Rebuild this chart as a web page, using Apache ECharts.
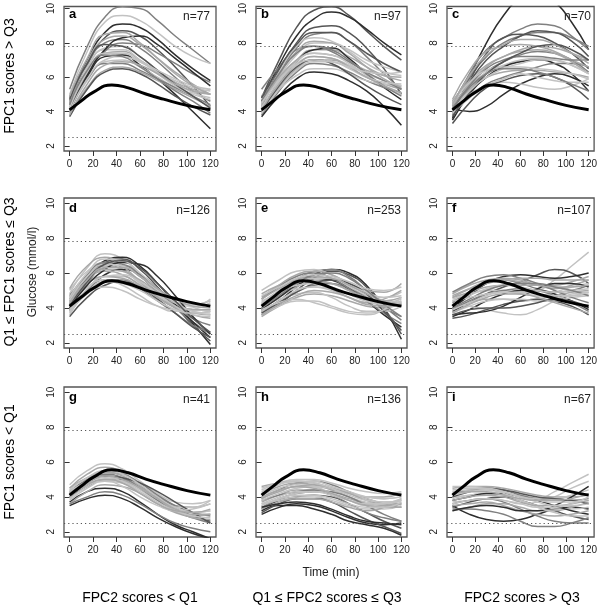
<!DOCTYPE html>
<html>
<head>
<meta charset="utf-8">
<script src="https://cdn.jsdelivr.net/npm/echarts@6/dist/echarts.min.js"></script>
<style>
  html, body { margin: 0; padding: 0; background: #fff; }
  #chart { width: 600px; height: 605px; }
</style>
</head>
<body>
<div id="chart"></div>
<script>
const times = [0, 15, 30, 45, 60, 75, 90, 105, 120];
// the mean curve was read at its own points (peak near 36 min)
const meanTimes = [0, 10, 20, 36, 50, 65, 80, 100, 120];
const meanCurve = [4.1, 4.62, 5.12, 5.55, 5.38, 5.02, 4.72, 4.36, 4.1];
const refLines = [2.5, 7.8];
const xTicks = [0, 20, 40, 60, 80, 100, 120];
const yTicks = [2, 4, 6, 8, 10];

const panelLetters = ['a', 'b', 'c', 'd', 'e', 'f', 'g', 'h', 'i'];
const panelCounts = [77, 97, 70, 126, 253, 107, 41, 136, 67];
const rowLabels = ['FPC1 scores > Q3', 'Q1 \u2264 FPC1 scores \u2264 Q3', 'FPC1 scores < Q1'];
const colLabels = ['FPC2 scores < Q1', 'Q1 \u2264 FPC2 scores \u2264 Q3', 'FPC2 scores > Q3'];
const yTitle = 'Glucose (mmol/l)';
const xTitle = 'Time (min)';

// panel a
const curvesA = [
  [5.3, 7.8, 9.5, 10.1, 10.0, 9.3, 8.4, 7.6, 6.8],
  [5.0, 7.5, 9.2, 9.6, 9.3, 8.6, 7.8, 7.2, 6.8],
  [4.8, 7.0, 8.6, 9.1, 8.9, 8.2, 7.3, 6.5, 5.8],
  [4.6, 6.8, 8.3, 8.7, 8.4, 7.6, 6.6, 5.5, 4.3],
  [4.5, 6.7, 8.0, 8.2, 7.7, 6.9, 6.0, 5.2, 4.6],
  [4.3, 6.5, 7.7, 7.8, 7.2, 6.4, 5.7, 5.1, 4.8],
  [4.6, 6.3, 7.4, 7.5, 7.0, 6.3, 5.7, 5.3, 5.0],
  [4.1, 6.0, 7.2, 7.3, 6.7, 5.9, 5.0, 4.0, 3.0],
  [4.0, 5.8, 6.9, 7.0, 6.6, 6.0, 5.4, 5.0, 4.7],
  [4.4, 5.9, 6.8, 6.8, 6.4, 5.9, 5.4, 4.9, 4.4],
  [3.9, 5.4, 6.4, 6.6, 6.3, 5.8, 5.3, 4.8, 4.3],
  [3.7, 5.3, 6.3, 6.5, 6.2, 5.6, 4.9, 4.3, 3.8],
  [4.8, 6.6, 7.6, 7.6, 7.0, 6.2, 5.5, 5.1, 5.3],
  [4.2, 6.2, 7.5, 8.0, 7.9, 7.4, 6.8, 6.2, 5.7],
  [4.0, 6.1, 7.6, 8.3, 8.4, 7.9, 7.1, 6.3, 5.5],
  [4.5, 6.9, 8.2, 8.4, 7.9, 7.1, 6.3, 5.6, 5.0],
  [4.2, 6.3, 7.4, 7.4, 6.9, 6.3, 5.8, 5.4, 5.2],
  [4.7, 6.8, 7.9, 7.8, 7.2, 6.4, 5.6, 4.9, 4.2],
  [4.0, 5.9, 7.0, 7.2, 6.9, 6.4, 5.9, 5.5, 5.3],
  [4.4, 6.4, 7.3, 7.2, 6.6, 5.9, 5.2, 4.6, 3.9],
  [4.9, 7.1, 8.5, 8.6, 8.0, 7.1, 6.2, 5.5, 5.0],
  [3.8, 5.6, 6.7, 6.9, 6.7, 6.2, 5.6, 5.2, 5.0]
];
const tonesA = [2, 4, 0, 1, 2, 4, 3, 0, 4, 2, 3, 1, 4, 2, 0, 3, 4, 1, 4, 2, 3, 3];

// panel b
const curvesB = [
  [4.8, 7.0, 8.9, 9.9, 10.1, 9.6, 8.7, 7.8, 7.0],
  [4.6, 6.7, 8.4, 9.4, 9.8, 9.5, 8.8, 8.0, 7.3],
  [4.5, 6.4, 8.0, 8.9, 9.0, 8.6, 7.7, 6.5, 5.0],
  [4.3, 6.2, 7.7, 8.5, 8.6, 8.1, 7.2, 6.2, 5.3],
  [4.4, 6.0, 7.3, 8.0, 8.0, 7.6, 7.0, 6.6, 6.3],
  [4.1, 5.8, 7.0, 7.6, 7.6, 7.2, 6.6, 6.1, 5.8],
  [4.2, 5.6, 6.9, 7.6, 7.7, 7.1, 6.2, 5.4, 4.7],
  [4.7, 5.9, 6.8, 7.2, 7.1, 6.7, 6.2, 5.8, 5.5],
  [4.0, 5.4, 6.5, 7.0, 7.0, 6.6, 6.0, 5.6, 5.3],
  [3.8, 5.2, 6.3, 6.8, 6.7, 6.3, 5.8, 5.4, 5.1],
  [4.3, 5.3, 6.1, 6.5, 6.5, 6.2, 5.8, 5.6, 5.5],
  [3.7, 4.9, 5.9, 6.3, 6.2, 5.8, 5.2, 4.3, 3.2],
  [4.9, 6.0, 7.0, 7.4, 7.3, 6.9, 6.4, 6.1, 6.0],
  [5.3, 6.6, 7.6, 7.8, 7.5, 6.9, 6.3, 5.8, 5.3],
  [4.5, 6.3, 7.8, 8.3, 8.1, 7.5, 6.8, 6.3, 6.1],
  [4.0, 5.5, 6.6, 7.0, 6.8, 6.2, 5.5, 4.9, 4.4],
  [4.4, 6.1, 7.5, 8.1, 8.0, 7.4, 6.6, 5.9, 5.4],
  [4.2, 5.7, 6.9, 7.4, 7.3, 6.8, 6.1, 5.5, 5.0],
  [4.6, 6.2, 7.4, 7.8, 7.6, 7.0, 6.2, 5.5, 4.9],
  [3.9, 5.3, 6.4, 6.9, 6.9, 6.5, 6.0, 5.7, 5.6],
  [4.8, 6.5, 7.9, 8.6, 8.6, 8.1, 7.4, 6.8, 6.3],
  [4.1, 5.6, 6.7, 7.2, 7.1, 6.6, 6.0, 5.5, 5.1],
  [4.5, 5.8, 6.7, 7.0, 6.9, 6.6, 6.3, 6.2, 6.3]
];
const tonesB = [1, 0, 1, 2, 4, 3, 0, 4, 3, 2, 4, 0, 3, 2, 4, 1, 3, 4, 2, 4, 1, 3, 4];

// panel c
const curvesC = [
  [3.6, 6.0, 8.0, 9.6, 10.6, 10.9, 10.4, 9.2, 7.6],
  [4.2, 4.0, 4.3, 5.0, 5.6, 6.0, 6.2, 6.0, 5.5],
  [4.5, 6.0, 7.2, 8.0, 8.4, 8.6, 8.6, 8.3, 7.8],
  [4.3, 6.2, 7.6, 8.3, 8.8, 9.1, 9.0, 8.4, 7.6],
  [4.0, 5.8, 7.4, 8.3, 8.5, 8.4, 8.0, 7.4, 6.5],
  [4.6, 5.8, 6.7, 7.2, 7.6, 7.8, 7.7, 7.4, 7.0],
  [3.8, 5.2, 6.3, 6.9, 7.3, 7.5, 7.4, 7.0, 6.3],
  [4.4, 5.5, 6.3, 6.7, 7.0, 7.1, 7.0, 6.7, 6.2],
  [3.5, 5.0, 6.0, 6.6, 6.9, 7.0, 6.8, 6.2, 5.2],
  [4.1, 5.3, 6.0, 6.3, 6.4, 6.4, 6.3, 6.2, 6.0],
  [3.9, 4.9, 5.6, 6.0, 6.3, 6.6, 6.8, 6.8, 6.6],
  [4.2, 5.0, 5.5, 5.7, 5.6, 5.4, 5.3, 5.5, 5.9],
  [3.3, 4.5, 5.4, 5.8, 6.1, 6.2, 6.0, 5.5, 4.7],
  [4.7, 6.4, 7.5, 7.8, 7.9, 7.8, 7.5, 7.0, 6.6],
  [4.0, 5.7, 7.0, 7.8, 8.4, 8.7, 8.6, 8.1, 7.2],
  [3.9, 4.8, 5.5, 5.9, 6.2, 6.0, 5.8, 5.7, 5.7],
  [4.3, 5.6, 6.6, 7.2, 7.5, 7.6, 7.4, 6.9, 6.2],
  [4.1, 5.5, 6.5, 7.0, 7.2, 7.2, 7.1, 7.0, 7.0],
  [4.5, 5.7, 6.4, 6.6, 6.6, 6.5, 6.4, 6.2, 5.9],
  [3.7, 5.1, 6.2, 6.9, 7.4, 7.8, 7.9, 7.6, 7.0],
  [4.4, 6.1, 7.3, 7.9, 8.2, 8.2, 7.9, 7.4, 6.8],
  [4.0, 5.2, 6.0, 6.5, 6.8, 7.0, 7.0, 6.7, 6.2],
  [4.2, 5.4, 6.2, 6.5, 6.5, 6.3, 6.0, 5.6, 5.2]
];
const tonesC = [0, 0, 2, 2, 1, 3, 2, 4, 0, 3, 2, 4, 1, 3, 1, 4, 3, 2, 4, 1, 3, 4, 2];

// panel d
const curvesD = [
  [4.8, 6.3, 7.1, 6.8, 5.9, 4.9, 4.3, 4.1, 4.2],
  [4.2, 5.6, 6.7, 6.9, 6.4, 5.4, 4.3, 3.1, 1.9],
  [4.4, 5.7, 6.6, 6.8, 6.2, 5.2, 4.1, 3.0, 2.1],
  [4.0, 5.4, 6.3, 6.4, 5.8, 4.9, 4.0, 3.2, 2.5],
  [5.0, 6.1, 6.6, 6.2, 5.4, 4.7, 4.3, 4.2, 4.4],
  [4.5, 5.8, 6.4, 6.2, 5.5, 4.8, 4.2, 3.9, 3.9],
  [3.9, 5.0, 5.9, 6.2, 5.9, 5.1, 4.2, 3.2, 2.3],
  [3.6, 5.0, 5.8, 5.8, 5.3, 4.7, 4.3, 4.2, 4.4],
  [4.3, 5.6, 6.1, 5.9, 5.3, 4.6, 4.0, 3.6, 3.4],
  [3.8, 5.0, 5.6, 5.6, 5.1, 4.4, 3.7, 3.0, 2.6],
  [4.1, 5.2, 5.6, 5.3, 4.7, 4.1, 3.8, 3.9, 4.3],
  [3.5, 4.6, 5.3, 5.5, 5.2, 4.5, 3.7, 2.9, 2.3],
  [4.6, 5.4, 5.8, 5.7, 5.2, 4.6, 4.1, 3.7, 3.6],
  [3.7, 4.8, 5.2, 5.0, 4.5, 4.1, 3.9, 4.0, 4.5],
  [4.7, 5.9, 6.6, 6.5, 5.9, 5.0, 4.1, 3.4, 3.0],
  [5.1, 6.4, 6.9, 6.4, 5.5, 4.6, 4.0, 3.7, 3.8],
  [4.0, 5.3, 6.2, 6.6, 6.5, 5.8, 4.7, 3.5, 2.5],
  [4.4, 5.8, 6.5, 6.4, 5.8, 5.0, 4.3, 3.8, 3.7],
  [4.2, 5.5, 6.2, 6.1, 5.6, 4.9, 4.3, 3.9, 3.9],
  [4.6, 6.0, 6.8, 6.7, 6.0, 5.1, 4.3, 3.8, 3.6],
  [3.9, 5.1, 5.8, 5.9, 5.5, 4.8, 4.1, 3.6, 3.5],
  [4.1, 5.5, 6.5, 6.7, 6.3, 5.4, 4.4, 3.4, 2.6],
  [4.3, 5.6, 6.3, 6.3, 5.8, 5.1, 4.5, 4.1, 4.0],
  [3.8, 4.9, 5.5, 5.4, 5.0, 4.4, 3.9, 3.7, 3.8]
];
const tonesD = [4, 0, 1, 2, 4, 3, 0, 4, 3, 2, 4, 1, 3, 4, 2, 3, 0, 4, 3, 4, 4, 1, 3, 4];

// panel e
const curvesE = [
  [3.8, 4.4, 5.2, 5.9, 6.2, 6.0, 5.3, 4.0, 2.2],
  [3.6, 4.2, 5.0, 5.7, 6.1, 5.9, 5.2, 4.0, 2.5],
  [4.2, 4.9, 5.6, 6.1, 6.2, 5.8, 5.0, 4.1, 3.3],
  [5.0, 5.6, 6.1, 6.2, 5.9, 5.4, 4.8, 4.6, 4.9],
  [4.6, 5.3, 5.9, 6.1, 5.9, 5.4, 5.0, 4.9, 5.4],
  [4.3, 5.0, 5.6, 5.8, 5.6, 5.2, 4.7, 4.4, 4.3],
  [4.0, 4.6, 5.2, 5.5, 5.4, 5.0, 4.5, 4.2, 4.2],
  [3.7, 4.3, 4.9, 5.3, 5.4, 5.1, 4.6, 4.0, 3.5],
  [4.4, 4.8, 5.1, 5.2, 5.0, 4.6, 4.3, 4.2, 4.4],
  [3.5, 4.1, 4.6, 4.8, 4.7, 4.4, 4.1, 4.0, 4.3],
  [4.0, 4.5, 4.8, 4.9, 4.6, 4.1, 3.8, 3.8, 4.1],
  [3.9, 4.6, 5.3, 5.7, 5.6, 5.1, 4.4, 3.6, 2.9],
  [4.8, 5.3, 5.6, 5.5, 5.1, 4.6, 4.3, 4.5, 5.0],
  [3.6, 4.1, 4.4, 4.4, 4.1, 3.8, 3.7, 3.9, 4.4],
  [4.5, 5.2, 5.8, 6.0, 5.7, 5.1, 4.4, 3.7, 3.1],
  [4.1, 4.8, 5.4, 5.6, 5.4, 5.0, 4.6, 4.4, 4.6],
  [3.7, 4.3, 4.9, 5.4, 5.6, 5.4, 4.8, 3.8, 2.7],
  [3.9, 4.3, 4.5, 4.3, 4.0, 3.7, 3.6, 3.9, 4.6],
  [4.2, 4.8, 5.4, 5.7, 5.7, 5.3, 4.9, 4.6, 4.7],
  [4.5, 5.1, 5.6, 5.8, 5.7, 5.3, 4.8, 4.4, 4.2],
  [3.8, 4.4, 5.0, 5.2, 5.1, 4.8, 4.4, 4.2, 4.3],
  [4.0, 4.7, 5.4, 5.9, 6.0, 5.7, 5.0, 4.2, 3.5],
  [4.7, 5.2, 5.7, 5.9, 5.8, 5.5, 5.1, 5.0, 5.2],
  [3.6, 4.2, 4.7, 5.0, 4.9, 4.6, 4.2, 4.1, 4.2],
  [4.3, 4.9, 5.3, 5.4, 5.2, 4.8, 4.4, 4.3, 4.5]
];
const tonesE = [0, 1, 2, 4, 3, 4, 3, 2, 4, 3, 4, 0, 3, 4, 2, 3, 1, 4, 4, 3, 4, 2, 4, 3, 4];

// panel f
const curvesF = [
  [4.4, 4.8, 5.0, 5.0, 4.9, 5.0, 5.6, 6.4, 7.2],
  [3.8, 4.3, 4.8, 5.2, 5.5, 5.9, 6.2, 6.0, 5.4],
  [4.0, 4.7, 5.4, 5.8, 5.9, 5.8, 5.7, 5.8, 6.0],
  [4.8, 5.3, 5.6, 5.7, 5.6, 5.3, 5.1, 5.3, 5.6],
  [4.3, 4.9, 5.4, 5.6, 5.4, 5.1, 4.9, 5.0, 5.3],
  [4.5, 4.8, 5.0, 5.0, 4.8, 4.7, 4.9, 5.2, 5.4],
  [3.5, 3.9, 4.4, 4.8, 5.0, 5.0, 4.8, 4.4, 3.9],
  [4.0, 4.3, 4.5, 4.5, 4.4, 4.5, 4.7, 4.9, 5.0],
  [4.2, 4.1, 3.9, 3.7, 3.6, 3.9, 4.4, 4.8, 4.9],
  [3.4, 3.6, 3.9, 4.2, 4.4, 4.5, 4.4, 4.1, 3.6],
  [3.9, 4.4, 4.8, 5.0, 5.1, 5.0, 4.7, 4.3, 3.8],
  [4.6, 4.9, 5.2, 5.3, 5.3, 5.3, 5.3, 5.5, 5.8],
  [3.6, 3.7, 3.8, 4.1, 4.6, 5.1, 5.4, 5.4, 5.2],
  [3.7, 4.1, 4.4, 4.5, 4.5, 4.4, 4.4, 4.6, 4.7],
  [4.9, 5.4, 5.8, 5.9, 5.7, 5.4, 5.0, 4.6, 4.3],
  [3.6, 3.9, 4.0, 4.0, 4.1, 4.3, 4.5, 4.4, 4.0],
  [4.2, 4.7, 5.1, 5.3, 5.2, 5.0, 4.9, 5.0, 5.1],
  [4.6, 5.1, 5.5, 5.6, 5.5, 5.3, 5.2, 5.2, 5.3],
  [3.9, 4.3, 4.7, 4.9, 4.9, 4.8, 4.7, 4.7, 4.8],
  [4.0, 4.5, 5.0, 5.3, 5.4, 5.4, 5.2, 5.0, 4.7],
  [4.4, 4.6, 4.8, 4.9, 4.8, 4.7, 4.6, 4.7, 4.9],
  [3.7, 4.2, 4.6, 4.8, 4.8, 4.6, 4.3, 4.0, 3.7],
  [4.7, 5.1, 5.4, 5.6, 5.7, 5.7, 5.6, 5.6, 5.6]
];
const tonesF = [4, 1, 0, 3, 2, 4, 0, 3, 4, 1, 2, 3, 0, 4, 2, 1, 4, 3, 4, 2, 4, 3, 3];

// panel g
const curvesG = [
  [4.7, 5.5, 5.9, 5.6, 4.9, 4.2, 3.7, 3.6, 3.8],
  [4.5, 5.3, 5.7, 5.4, 4.7, 4.0, 3.5, 3.4, 3.6],
  [4.3, 5.0, 5.4, 5.3, 4.8, 4.1, 3.5, 3.1, 2.9],
  [4.0, 4.6, 5.0, 5.0, 4.6, 4.0, 3.4, 2.9, 2.6],
  [4.1, 4.8, 5.1, 4.9, 4.4, 3.8, 3.4, 3.4, 3.8],
  [3.7, 4.3, 4.5, 4.3, 3.7, 3.0, 2.4, 2.0, 1.6],
  [3.5, 3.9, 4.1, 3.9, 3.4, 2.8, 2.3, 1.9, 1.6],
  [3.6, 4.3, 4.7, 4.6, 4.2, 3.6, 3.1, 2.9, 3.0],
  [4.2, 4.9, 5.3, 5.1, 4.5, 3.8, 3.2, 2.8, 2.5],
  [3.9, 4.6, 5.0, 4.9, 4.5, 3.9, 3.4, 3.1, 3.2],
  [3.6, 4.0, 4.3, 4.1, 3.6, 3.0, 2.5, 2.2, 2.0],
  [4.5, 5.1, 5.4, 5.2, 4.6, 3.9, 3.2, 2.8, 2.7],
  [4.1, 4.8, 5.2, 5.1, 4.8, 4.3, 3.7, 3.1, 2.5],
  [4.3, 4.8, 4.9, 4.6, 4.0, 3.5, 3.2, 3.3, 3.6],
  [4.4, 5.1, 5.5, 5.3, 4.7, 4.0, 3.4, 3.1, 3.2],
  [4.2, 4.8, 5.2, 5.0, 4.5, 3.9, 3.3, 3.0, 3.0],
  [3.8, 4.5, 4.9, 4.8, 4.3, 3.7, 3.2, 2.9, 2.8],
  [4.0, 4.7, 5.0, 4.8, 4.2, 3.6, 3.2, 3.1, 3.3]
];
const tonesG = [4, 3, 2, 1, 4, 0, 0, 3, 2, 4, 2, 3, 1, 4, 4, 3, 4, 3];

// panel h
const curvesH = [
  [4.4, 4.8, 5.0, 5.0, 4.8, 4.5, 4.3, 4.2, 4.3],
  [4.6, 4.8, 4.9, 4.8, 4.5, 4.2, 4.0, 4.0, 4.2],
  [3.9, 4.4, 4.8, 4.9, 4.7, 4.3, 3.9, 3.6, 3.4],
  [4.0, 4.3, 4.6, 4.6, 4.4, 4.0, 3.7, 3.6, 3.8],
  [3.7, 4.1, 4.4, 4.4, 4.2, 3.9, 3.6, 3.5, 3.6],
  [3.3, 3.8, 4.0, 4.1, 4.0, 3.6, 3.1, 2.6, 2.2],
  [3.2, 3.5, 3.5, 3.3, 3.0, 2.6, 2.4, 2.2, 1.8],
  [3.0, 3.4, 3.6, 3.5, 3.2, 2.8, 2.5, 2.4, 2.5],
  [3.4, 3.9, 4.2, 4.3, 4.1, 3.6, 3.1, 2.8, 2.6],
  [3.6, 3.8, 4.0, 4.0, 3.8, 3.5, 3.3, 3.3, 3.5],
  [4.2, 4.6, 4.8, 4.7, 4.4, 4.0, 3.6, 3.4, 3.4],
  [3.1, 3.6, 3.9, 3.9, 3.7, 3.2, 2.7, 2.3, 1.9],
  [3.5, 3.9, 4.2, 4.3, 4.3, 4.2, 4.0, 3.9, 4.0],
  [3.8, 4.1, 4.3, 4.4, 4.3, 4.0, 3.5, 3.0, 2.6],
  [3.3, 3.7, 3.9, 3.9, 3.7, 3.4, 3.2, 3.4, 3.9],
  [3.4, 3.6, 3.7, 3.6, 3.3, 2.9, 2.6, 2.5, 2.4],
  [4.1, 4.5, 4.7, 4.6, 4.2, 3.8, 3.5, 3.6, 3.9],
  [4.3, 4.7, 4.9, 4.9, 4.6, 4.3, 4.0, 3.9, 4.0],
  [3.8, 4.2, 4.5, 4.6, 4.5, 4.2, 3.9, 3.7, 3.7],
  [4.0, 4.4, 4.6, 4.7, 4.5, 4.2, 3.8, 3.6, 3.6],
  [3.6, 4.0, 4.3, 4.3, 4.1, 3.8, 3.6, 3.6, 3.8],
  [3.9, 4.3, 4.6, 4.5, 4.2, 3.8, 3.5, 3.4, 3.6],
  [4.5, 4.8, 4.9, 4.8, 4.5, 4.1, 3.8, 3.7, 3.8],
  [3.5, 3.9, 4.1, 4.1, 3.9, 3.6, 3.4, 3.4, 3.7]
];
const tonesH = [4, 3, 2, 4, 3, 1, 0, 0, 2, 4, 3, 1, 4, 2, 3, 0, 4, 4, 4, 3, 4, 3, 4, 4];

// panel i
const curvesI = [
  [3.5, 3.0, 2.7, 2.6, 2.7, 3.0, 3.3, 3.4, 3.3],
  [4.0, 4.1, 4.2, 4.1, 3.9, 3.9, 4.3, 4.8, 5.3],
  [3.7, 3.8, 3.9, 3.8, 3.6, 3.7, 4.0, 4.5, 4.9],
  [4.5, 4.6, 4.6, 4.5, 4.3, 4.1, 4.0, 4.0, 4.1],
  [4.2, 4.4, 4.5, 4.4, 4.1, 3.9, 3.8, 3.8, 3.9],
  [3.4, 3.7, 3.9, 4.0, 3.8, 3.5, 3.2, 2.9, 2.7],
  [3.9, 4.1, 4.2, 4.1, 3.8, 3.5, 3.3, 3.3, 3.4],
  [3.6, 3.8, 3.9, 3.7, 3.3, 2.9, 2.6, 2.5, 2.5],
  [3.2, 3.4, 3.6, 3.6, 3.4, 3.2, 3.2, 3.4, 3.7],
  [3.8, 4.0, 4.2, 4.2, 4.0, 3.8, 3.5, 3.2, 3.0],
  [4.6, 4.6, 4.5, 4.3, 4.0, 3.9, 3.9, 4.1, 4.4],
  [3.3, 3.3, 3.2, 3.0, 2.6, 2.3, 2.3, 2.5, 2.8],
  [3.5, 3.6, 3.7, 3.5, 3.2, 3.0, 2.9, 3.0, 3.2],
  [4.0, 4.3, 4.5, 4.4, 4.2, 4.0, 3.9, 3.8, 3.6],
  [3.2, 3.4, 3.5, 3.4, 3.2, 3.2, 3.5, 4.0, 4.6],
  [4.3, 4.4, 4.4, 4.2, 3.8, 3.4, 3.1, 2.9, 2.9],
  [4.1, 4.3, 4.4, 4.3, 4.0, 3.8, 3.7, 3.7, 3.8],
  [3.8, 4.0, 4.1, 4.0, 3.7, 3.5, 3.5, 3.6, 3.8],
  [4.4, 4.5, 4.5, 4.3, 4.0, 3.7, 3.5, 3.5, 3.6],
  [3.6, 3.8, 3.9, 3.8, 3.6, 3.4, 3.4, 3.6, 4.0],
  [4.2, 4.3, 4.3, 4.1, 3.9, 3.8, 3.8, 3.9, 4.2]
];
const tonesI = [0, 4, 4, 3, 2, 1, 4, 2, 3, 0, 4, 2, 3, 1, 0, 4, 4, 3, 4, 4, 3];

const panelCurves = [curvesA, curvesB, curvesC, curvesD, curvesE, curvesF, curvesG, curvesH, curvesI];
const panelTones = [tonesA, tonesB, tonesC, tonesD, tonesE, tonesF, tonesG, tonesH, tonesI];

// ---- layout / style ----
const greys = ['#2e2e2e', '#555555', '#808080', '#a8a8a8', '#c2c2c2'];
const colLeft = [64, 256, 447];
const colWidth = [152, 151, 150];
const rowTop = [4, 198, 387];
const rowHeight = [147, 150, 150];
const rowMax = [10.12, 10.3, 10.3];
const FONT = '"Liberation Sans", Arial, Helvetica, sans-serif';

const grids = [], xAxes = [], yAxes = [], series = [], graphics = [];

for (let p = 0; p < 9; p++) {
  const r = Math.floor(p / 3), c = p % 3;
  grids.push({
    left: colLeft[c], top: rowTop[r], width: colWidth[c], height: rowHeight[r],
    show: true, borderColor: '#555', borderWidth: 1.3, backgroundColor: 'transparent'
  });
  xAxes.push({
    type: 'value', gridIndex: p, min: -4.8, max: 124.8,
    axisLine: { show: false },
    splitLine: { show: false },
    axisTick: { show: true, customValues: xTicks, length: 5, lineStyle: { color: '#333' } },
    axisLabel: { customValues: xTicks, fontSize: 10, color: '#222', margin: 8, fontFamily: FONT }
  });
  yAxes.push({
    type: 'value', gridIndex: p, min: 1.7, max: rowMax[r],
    axisLine: { show: false },
    splitLine: { show: false },
    axisTick: { show: true, customValues: yTicks, length: 5, lineStyle: { color: '#333' } },
    axisLabel: { customValues: yTicks, fontSize: 10, color: '#222', margin: 8, rotate: 90, fontFamily: FONT }
  });

  panelCurves[p].forEach((vals, k) => {
    series.push({
      type: 'line', xAxisIndex: p, yAxisIndex: p, smooth: true, showSymbol: false,
      silent: true, clip: true,
      lineStyle: { color: greys[panelTones[p][k]], width: 1.5 },
      data: vals.map((v, i) => [times[i], v])
    });
  });

  series.push({
    type: 'line', xAxisIndex: p, yAxisIndex: p, smooth: true, showSymbol: false,
    silent: true, z: 5,
    lineStyle: { color: '#000', width: 3 },
    data: meanCurve.map((v, i) => [meanTimes[i], v]),
    markLine: {
      silent: true, symbol: 'none', label: { show: false },
      lineStyle: { color: '#555', type: [1.2, 3], width: 1.2 },
      data: refLines.map(v => ({ yAxis: v }))
    }
  });

  const left = colLeft[c], top = rowTop[r], right = colLeft[c] + colWidth[c];
  graphics.push({
    type: 'text', left: left + 5, top: top + 4,
    style: { text: panelLetters[p], font: 'bold 13px ' + FONT, fill: '#000' }
  });
  graphics.push({
    type: 'text', x: right - 6, y: top + 13,
    style: { text: 'n=' + panelCounts[p], font: '12px ' + FONT, fill: '#222', textAlign: 'right', textVerticalAlign: 'middle' }
  });
}

const rowCenter = [76, 272, 462];
rowLabels.forEach((t, r) => {
  graphics.push({
    type: 'text', x: 10, y: rowCenter[r], rotation: Math.PI / 2,
    style: { text: t, font: '14px ' + FONT, fill: '#000', textAlign: 'center', textVerticalAlign: 'middle' }
  });
});
graphics.push({
  type: 'text', x: 33, y: 272, rotation: Math.PI / 2,
  style: { text: yTitle, font: '12px ' + FONT, fill: '#222', textAlign: 'center', textVerticalAlign: 'middle' }
});
const colCenter = [140, 327, 522];
colLabels.forEach((t, c) => {
  graphics.push({
    type: 'text', x: colCenter[c], y: 598,
    style: { text: t, font: '14px ' + FONT, fill: '#000', textAlign: 'center', textVerticalAlign: 'middle' }
  });
});
graphics.push({
  type: 'text', x: 331, y: 573,
  style: { text: xTitle, font: '12px ' + FONT, fill: '#222', textAlign: 'center', textVerticalAlign: 'middle' }
});

const chart = echarts.init(document.getElementById('chart'), null, { renderer: 'canvas' });
chart.setOption({
  animation: false,
  backgroundColor: '#fff',
  grid: grids,
  xAxis: xAxes,
  yAxis: yAxes,
  series: series,
  graphic: graphics
});
</script>
</body>
</html>
